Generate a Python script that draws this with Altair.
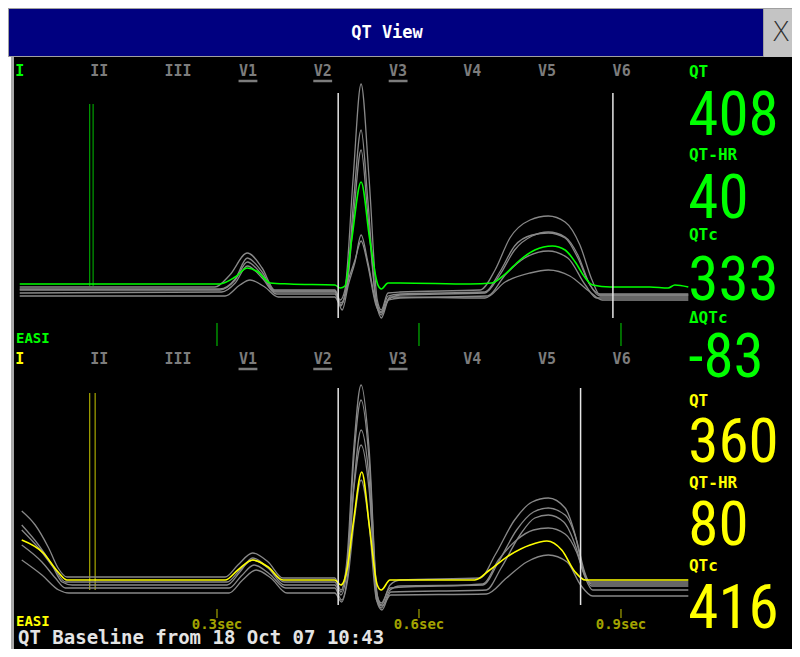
import altair as alt
import pandas as pd

# ---------------- data ----------------
TITLE = "QT View"
FOOTER = "QT Baseline from 18 Oct 07 10:43"
LEADS = ["I", "II", "III", "V1", "V2", "V3", "V4", "V5", "V6"]
UNDERLINED = ["V1", "V2", "V3"]
SEC_MARKS_MS = [300, 600, 900]
SEC_LABELS = ["0.3sec", "0.6sec", "0.9sec"]
Q_ONSET_MS = 480
T_END_TOP_MS = 888
T_END_BOT_MS = 840
MARK_TOP_MS = [111, 116]
MARK_BOT_MS = [111, 119]

TOP_LABELS = ["QT", "QT-HR", "QTc", "ΔQTc"]
TOP_VALUES = ["408", "40", "333", "-83"]
BOT_LABELS = ["QT", "QT-HR", "QTc"]
BOT_VALUES = ["360", "80", "416"]

# traces: time (ms) and display level (screen rows, larger = lower)
GREEN_T = [7, 304, 327, 345, 361, 379, 408, 475, 483, 490, 500, 514, 527, 539, 544, 554, 572, 676, 708, 728, 750, 772, 798, 817, 832, 847, 858, 884, 943, 970, 980, 1000]
GREEN_Y = [284, 284, 277, 268, 272, 283, 284, 285, 288, 286, 240, 182, 240, 285, 289, 283, 283, 284, 283, 274, 260, 250, 246, 250, 262, 278, 285, 287, 287, 288, 285, 287]

TOP_GRAY = {
    "A": ([7, 297, 319, 345, 367, 386, 475, 483, 490, 502, 514, 526, 538, 544, 554, 572, 691, 713, 735, 765, 792, 817, 839, 857, 869, 1000],
          [287, 287, 275, 253, 268, 290, 290, 300, 290, 180, 84, 180, 300, 310, 293, 292, 290, 270, 238, 220, 216, 222, 245, 280, 295, 295]),
    "B": ([7, 304, 327, 345, 367, 386, 475, 484, 493, 503, 514, 524, 536, 544, 554, 572, 698, 720, 742, 768, 792, 817, 836, 854, 869, 1000],
          [290, 290, 280, 262, 275, 292, 292, 305, 285, 200, 130, 200, 300, 315, 300, 295, 293, 275, 250, 236, 232, 237, 255, 285, 296, 296]),
    "C": ([7, 307, 327, 345, 367, 388, 475, 486, 495, 505, 514, 524, 535, 544, 555, 572, 702, 728, 757, 792, 821, 847, 864, 1000],
          [293, 292, 283, 266, 278, 294, 294, 310, 285, 262, 235, 262, 300, 318, 300, 298, 296, 275, 258, 251, 258, 285, 298, 298]),
    "D": ([7, 312, 334, 349, 371, 391, 475, 484, 495, 505, 514, 524, 536, 544, 557, 698, 728, 765, 792, 824, 854, 872, 1000],
          [296, 296, 285, 280, 287, 297, 297, 306, 280, 260, 241, 265, 305, 313, 297, 298, 282, 273, 270, 276, 292, 300, 300]),
    "E": ([7, 304, 327, 345, 367, 386, 475, 484, 493, 503, 514, 524, 536, 544, 554, 572, 698, 720, 742, 768, 792, 817, 836, 854, 869, 1000],
          [289, 289, 279, 258, 272, 291, 291, 303, 288, 215, 150, 215, 298, 312, 296, 294, 292, 272, 246, 235, 233, 238, 258, 285, 294, 294]),
}

YELLOW_T = [10, 42, 64, 77, 312, 331, 353, 376, 398, 475, 484, 493, 503, 515, 527, 538, 544, 557, 683, 705, 735, 765, 790, 812, 832, 847, 1000]
YELLOW_Y = [540, 553, 572, 580, 580, 570, 560, 567, 580, 580, 585, 570, 520, 472, 530, 585, 590, 580, 580, 570, 555, 545, 541, 550, 572, 580, 580]

BOT_GRAY = {
    "A": ([10, 30, 50, 64, 77, 312, 331, 353, 376, 398, 475, 484, 493, 503, 514, 526, 538, 544, 557, 572, 691, 713, 742, 768, 792, 817, 832, 844, 854, 1000],
          [511, 525, 548, 568, 577, 577, 565, 553, 562, 578, 578, 590, 560, 450, 385, 450, 595, 605, 585, 580, 578, 555, 520, 502, 498, 508, 535, 570, 582, 582]),
    "B": ([10, 35, 55, 70, 85, 315, 334, 353, 376, 400, 475, 484, 493, 503, 514, 526, 538, 544, 557, 572, 695, 718, 745, 770, 792, 817, 834, 846, 856, 1000],
          [525, 545, 565, 582, 585, 585, 572, 558, 568, 585, 585, 595, 570, 460, 400, 460, 598, 608, 590, 586, 585, 562, 530, 512, 508, 515, 540, 572, 586, 586]),
    "C": ([10, 40, 60, 75, 318, 336, 355, 378, 402, 475, 485, 494, 504, 514, 526, 537, 545, 558, 700, 722, 750, 772, 792, 815, 832, 846, 858, 1000],
          [545, 562, 578, 588, 588, 576, 565, 574, 588, 588, 600, 575, 480, 430, 480, 600, 610, 592, 590, 568, 535, 518, 515, 522, 545, 576, 590, 590]),
    "D": ([10, 40, 65, 80, 318, 338, 358, 380, 404, 475, 485, 494, 504, 514, 526, 537, 545, 558, 700, 730, 760, 792, 820, 840, 858, 1000],
          [560, 575, 590, 593, 593, 580, 570, 578, 593, 593, 602, 580, 520, 480, 525, 600, 606, 595, 594, 578, 562, 555, 562, 585, 596, 596]),
    "E": ([10, 35, 60, 75, 315, 334, 353, 376, 400, 475, 484, 493, 503, 514, 526, 538, 544, 557, 695, 718, 745, 770, 792, 817, 834, 846, 856, 1000],
          [530, 548, 570, 582, 582, 570, 560, 568, 582, 582, 592, 565, 490, 445, 490, 596, 603, 588, 584, 560, 540, 530, 528, 534, 552, 575, 584, 584]),
}

# ---------------- layout ----------------
W, H = 784, 641
xs = alt.Scale(domain=[-10.4, 1154.0], nice=False, zero=False)
ys = alt.Scale(domain=[8, 649], reverse=True, nice=False, zero=False)
LEAD_X_MS = [7, 125, 242, 346, 457, 569, 679, 790, 901]
LABEL_X_MS = 1001
MONO = "DejaVu Sans Mono"
BIG = "Liberation Sans Narrow, Roboto Condensed, Noto Sans Condensed, DejaVu Sans Condensed, Arial Narrow, Liberation Sans"
GREEN = "#00ff00"
YELLOW = "#ffff00"
LEADGRAY = "#7c7c7c"
TRACEGRAY = "#888888"
OLIVE = "#a3a300"

X = lambda f="t": alt.X(f"{f}:Q", scale=xs, axis=None)
Y = lambda f="y": alt.Y(f"{f}:Q", scale=ys, axis=None)
one = pd.DataFrame({"k": [0]})


def box(x1, x2, y1, y2, color):
    return alt.Chart(one).mark_rect(color=color).encode(
        x=alt.value(x1), x2=alt.value(x2), y=alt.value(y1), y2=alt.value(y2))


def texts(df, color, size, font=MONO, weight="bold", align="center", baseline="alphabetic"):
    return alt.Chart(df).mark_text(color=color, fontSize=size, font=font, fontWeight=weight,
                                   align=align, baseline=baseline).encode(x=X(), y=Y(), text="s:N")


def lines_df(d):
    rows = []
    for name, (ts, yv) in d.items():
        rows += [{"trace": name, "t": a, "y": b} for a, b in zip(ts, yv)]
    return pd.DataFrame(rows)


layers = []
# frame / chrome
layers.append(box(0, 3, 0, H, "#ffffff"))
layers.append(box(3, 6, 0, H, "#a8a8a8"))
layers.append(box(0, W, 0, 49, "#a0a0a0"))
layers.append(box(1, 755, 1, 48, "#000080"))
layers.append(box(756, W, 1, 49, "#c4c4c4"))
layers.append(alt.Chart(one).mark_text(text=TITLE, color="#ffffff", fontSize=17, font=MONO, fontWeight="bold")
              .encode(x=alt.value(379), y=alt.value(25)))
layers.append(alt.Chart(one).mark_text(text="X", color="#303030", fontSize=27, font="DejaVu Sans", fontWeight=200)
              .encode(x=alt.value(773), y=alt.value(25)))

# lead labels
for row_y, first_color in [(76, GREEN), (364, YELLOW)]:
    df = pd.DataFrame({"t": LEAD_X_MS, "y": [row_y] * len(LEADS), "s": LEADS})
    layers.append(texts(df.iloc[1:], LEADGRAY, 15))
    layers.append(texts(df.iloc[:1], first_color, 15))
    ul = df[df.s.isin(UNDERLINED)].assign(t1=lambda d: d.t - 14, t2=lambda d: d.t + 14, y=row_y + 5)
    layers.append(alt.Chart(ul).mark_rule(color=LEADGRAY, strokeWidth=2.5).encode(x=X("t1"), x2="t2:Q", y=Y()))

# EASI labels
layers.append(texts(pd.DataFrame({"t": [1.5], "y": [343], "s": ["EASI"]}), GREEN, 14, align="left"))
layers.append(texts(pd.DataFrame({"t": [1.5], "y": [626], "s": ["EASI"]}), YELLOW, 14, align="left"))

# markers
mk_top = pd.DataFrame({"t": MARK_TOP_MS, "y": 104, "y2": 286})
layers.append(alt.Chart(mk_top).mark_rule(color="#00c000", strokeWidth=1).encode(x=X(), y=Y(), y2="y2:Q"))
mk_bot = pd.DataFrame({"t": MARK_BOT_MS, "y": 393, "y2": 590})
layers.append(alt.Chart(mk_bot).mark_rule(color="#c8c800", strokeWidth=1).encode(x=X(), y=Y(), y2="y2:Q"))

# sec ticks
tk_top = pd.DataFrame({"t": SEC_MARKS_MS, "y": 323, "y2": 346})
layers.append(alt.Chart(tk_top).mark_rule(color="#009000", strokeWidth=1.5).encode(x=X(), y=Y(), y2="y2:Q"))
tk_bot = pd.DataFrame({"t": SEC_MARKS_MS, "y": 609, "y2": 618})
layers.append(alt.Chart(tk_bot).mark_rule(color=OLIVE, strokeWidth=1.2).encode(x=X(), y=Y(), y2="y2:Q"))
layers.append(texts(pd.DataFrame({"t": SEC_MARKS_MS, "y": 629, "s": SEC_LABELS}), OLIVE, 14))

# traces
for d in (TOP_GRAY, BOT_GRAY):
    layers.append(alt.Chart(lines_df(d)).mark_line(color=TRACEGRAY, strokeWidth=1.3, interpolate="monotone")
                  .encode(x=X(), y=Y(), detail="trace:N"))
layers.append(alt.Chart(pd.DataFrame({"t": GREEN_T, "y": GREEN_Y})).mark_line(color=GREEN, strokeWidth=1.6, interpolate="monotone")
              .encode(x=X(), y=Y()))
layers.append(alt.Chart(pd.DataFrame({"t": YELLOW_T, "y": YELLOW_Y})).mark_line(color=YELLOW, strokeWidth=1.6, interpolate="monotone")
              .encode(x=X(), y=Y()))

# QT interval boundaries
qt = pd.DataFrame({"t": [Q_ONSET_MS, T_END_TOP_MS, Q_ONSET_MS, T_END_BOT_MS],
                   "y": [93, 93, 388, 388], "y2": [318, 318, 605, 605]})
layers.append(alt.Chart(qt).mark_rule(color="#e6e6e6", strokeWidth=1.5).encode(x=X(), y=Y(), y2="y2:Q"))

# numeric panel
top_lab = pd.DataFrame({"t": LABEL_X_MS, "y": [77, 160, 240, 323], "s": TOP_LABELS})
top_val = pd.DataFrame({"t": LABEL_X_MS - 1, "y": [135, 218, 300, 377], "s": TOP_VALUES})
bot_lab = pd.DataFrame({"t": LABEL_X_MS, "y": [406, 488, 571], "s": BOT_LABELS})
bot_val = pd.DataFrame({"t": LABEL_X_MS - 1, "y": [462, 545, 628], "s": BOT_VALUES})
layers.append(texts(top_lab, GREEN, 16, align="left"))
layers.append(texts(bot_lab, YELLOW, 16, align="left"))
layers.append(texts(top_val, GREEN, 61, font=BIG, weight="normal", align="left"))
layers.append(texts(bot_val, YELLOW, 61, font=BIG, weight="normal", align="left"))

# footer
layers.append(texts(pd.DataFrame({"t": [4.5], "y": [644], "s": [FOOTER]}), "#e4e4e4", 19, weight="bold", align="left"))

chart = alt.layer(*layers).properties(
    width=W, height=H, padding=0,
    autosize=alt.AutoSizeParams(type="none"),
).configure(background="#000000").configure_view(stroke=None)

chart.save("out.html", embed_options={"renderer": "svg", "actions": False})
